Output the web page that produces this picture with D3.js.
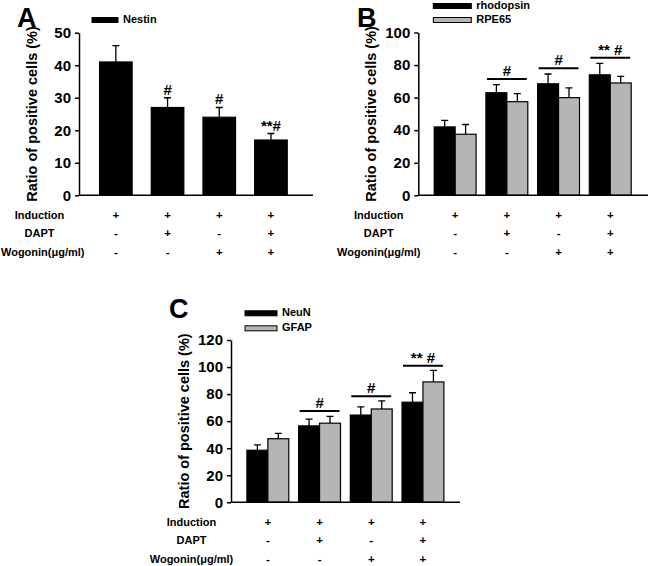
<!DOCTYPE html>
<html>
<head>
<meta charset="utf-8">
<script src="https://cdn.jsdelivr.net/npm/d3@7"></script>
<style>
  body { margin:0; background:#fff; }
  svg { font-family: "Liberation Sans", Arial, sans-serif; font-weight: bold; }
</style>
</head>
<body>
<div id="chart"></div>
<script>
// conditions table
var groups = ["g1", "g2", "g3", "g4"];
var rowLabels = ["Induction", "DAPT", "Wogonin(μg/ml)"];
var inductionSigns = ["+", "+", "+", "+"];
var daptSigns = ["-", "+", "-", "+"];
var wogoninSigns = ["-", "-", "+", "+"];

// panel A
var nestinMean = [41, 27, 24, 17];
var nestinErr = [5, 3, 3, 2];
var marksA = ["", "#", "#", "**#"];

// panel B
var rhodopsinMean = [42, 63, 68.5, 74];
var rhodopsinErr = [4, 5, 6, 7];
var rpe65Mean = [37.5, 57.5, 60, 69];
var rpe65Err = [6, 5, 6, 4];
var marksB = ["", "#", "#", "** #"];
var linesB = [null, 71.5, 78, 84.5];

// panel C
var neunMean = [38.5, 56.5, 64.5, 74];
var neunErr = [4, 5, 6, 7];
var gfapMean = [47, 58.5, 69, 89];
var gfapErr = [4, 5, 6, 8.5];
var marksC = ["", "#", "#", "** #"];
var linesC = [null, 67.5, 78.5, 101];

var svg = d3.select("#chart").append("svg")
    .attr("width", 650).attr("height", 566);

function drawPanel(p) {
  var g = svg.append("g");

  var y = d3.scaleLinear().domain([0, p.yMax]).range([p.yBot, p.yTop]);
  var x = d3.scaleBand().domain(groups)
      .range([p.x0 + 11, p.x0 + 11 + 51.7 * groups.length])
      .paddingInner(p.pad).paddingOuter(p.pad / 2);
  var names = p.series.map(function(s) { return s.name; });
  var xs = d3.scaleBand().domain(names).range([0, x.bandwidth()]);

  // bars + error bars
  p.series.forEach(function(s) {
    var sg = g.append("g");
    sg.selectAll("rect")
      .data(groups)
      .enter().append("rect")
      .attr("x", function(d) { return x(d) + xs(s.name); })
      .attr("y", function(d, i) { return y(s.mean[i]); })
      .attr("width", xs.bandwidth())
      .attr("height", function(d, i) { return p.yBot - y(s.mean[i]); })
      .attr("fill", s.color)
      .attr("stroke", "#000").attr("stroke-width", 1.2);

    var cx = function(d) { return x(d) + xs(s.name) + xs.bandwidth() / 2; };
    sg.selectAll(".err")
      .data(groups)
      .enter().append("path")
      .attr("class", "err")
      .attr("d", function(d, i) {
        var top = y(s.mean[i] + s.err[i]), bot = y(s.mean[i]), c = cx(d);
        return "M" + c + "," + bot + "V" + top + "M" + (c - 3.5) + "," + top + "H" + (c + 3.5);
      })
      .attr("stroke", "#000").attr("stroke-width", 1.3).attr("fill", "none");
  });

  // y axis
  var yAxis = d3.axisLeft(y).tickValues(d3.range(0, p.yMax + 1, p.step))
      .tickSize(4).tickSizeOuter(0).tickPadding(4);
  var ax = g.append("g").attr("transform", "translate(" + p.x0 + ",0)").call(yAxis);
  ax.selectAll("text").attr("font-size", 15).attr("font-family", "Liberation Sans, Arial").attr("font-weight", "bold").attr("fill", "#000");
  ax.selectAll("line, path").attr("stroke", "#000").attr("stroke-width", 1.5);

  // x baseline
  g.append("line")
    .attr("x1", p.x0).attr("x2", p.x1)
    .attr("y1", p.yBot).attr("y2", p.yBot)
    .attr("stroke", "#000").attr("stroke-width", 1.5);

  // axis title
  g.append("text")
    .attr("transform", "translate(" + (p.x0 - 46) + "," + ((p.yTop + p.yBot) / 2) + ") rotate(-90)")
    .attr("text-anchor", "middle").attr("dominant-baseline", "middle")
    .attr("font-size", 14.5)
    .text("Ratio of positive cells (%)");

  // significance marks
  g.selectAll(".mark")
    .data(groups)
    .enter().append("text")
    .attr("class", "mark")
    .attr("x", function(d) { return x(d) + x.bandwidth() / 2; })
    .attr("y", function(d, i) {
      if (p.lines) return p.lines[i] == null ? 0 : y(p.lines[i]) - 3;
      var top = d3.max(p.series, function(s) { return s.mean[i] + s.err[i]; });
      return y(top) - 3;
    })
    .attr("text-anchor", "middle")
    .attr("font-size", 15)
    .text(function(d, i) { return p.marks[i]; });

  if (p.lines) {
    g.selectAll(".sig")
      .data(groups.filter(function(d, i) { return p.lines[i] != null; }))
      .enter().append("line")
      .attr("x1", function(d) { return x(d) + 1; })
      .attr("x2", function(d) { return x(d) + x.bandwidth() - 1; })
      .attr("y1", function(d) { return y(p.lines[groups.indexOf(d)]); })
      .attr("y2", function(d) { return y(p.lines[groups.indexOf(d)]); })
      .attr("stroke", "#000").attr("stroke-width", 2);
  }

  // conditions table
  var signs = [inductionSigns, daptSigns, wogoninSigns];
  var rowY = [20.5, 39, 58];
  rowLabels.forEach(function(lab, r) {
    var t = g.append("text")
      .attr("x", p.x0 - 39.5).attr("y", p.yBot + rowY[r])
      .attr("text-anchor", "middle").attr("dominant-baseline", "middle")
      .attr("font-size", 11)
      .text(lab);
    // keep the long label inside the page
    var w = t.node().getComputedTextLength();
    if (p.x0 - 39.5 - w / 2 < 1) t.attr("x", 1 + w / 2);
    g.selectAll(".sign" + r)
      .data(groups)
      .enter().append("text")
      .attr("x", function(d) { return x(d) + x.bandwidth() / 2; })
      .attr("y", p.yBot + rowY[r])
      .attr("text-anchor", "middle").attr("dominant-baseline", "middle")
      .attr("font-size", 11.5)
      .text(function(d, i) { return signs[r][i]; });
  });

  // legend
  p.series.forEach(function(s, i) {
    var ly = p.legendY[i];
    g.append("rect")
      .attr("x", p.x0 + p.legendX).attr("y", ly - 2.5)
      .attr("width", p.legendW).attr("height", 5)
      .attr("fill", s.color).attr("stroke", "#000").attr("stroke-width", 1);
    g.append("text")
      .attr("x", p.x0 + p.legendX + p.legendW + 5).attr("y", ly)
      .attr("dominant-baseline", "middle")
      .attr("font-size", 11)
      .text(s.name);
  });

  // panel letter
  g.append("text")
    .attr("x", p.letterX).attr("y", p.letterY)
    .attr("font-size", 27)
    .text(p.letter);
}

drawPanel({
  letter: "A", letterX: 17, letterY: 27,
  x0: 79, x1: 313, yTop: 32.7, yBot: 195.3, yMax: 50, step: 10, pad: 0.37,
  series: [{ name: "Nestin", mean: nestinMean, err: nestinErr, color: "#000" }],
  marks: marksA, lines: null,
  legendX: 13, legendW: 26, legendY: [20]
});

drawPanel({
  letter: "B", letterX: 357, letterY: 27,
  x0: 418.3, x1: 648, yTop: 32.5, yBot: 195.3, yMax: 100, step: 20, pad: 0.19,
  series: [
    { name: "rhodopsin", mean: rhodopsinMean, err: rhodopsinErr, color: "#000" },
    { name: "RPE65", mean: rpe65Mean, err: rpe65Err, color: "#b5b5b5" }
  ],
  marks: marksB, lines: linesB,
  legendX: 15, legendW: 38, legendY: [6, 20]
});

drawPanel({
  letter: "C", letterX: 169, letterY: 318,
  x0: 231, x1: 460, yTop: 340, yBot: 502.3, yMax: 120, step: 20, pad: 0.19,
  series: [
    { name: "NeuN", mean: neunMean, err: neunErr, color: "#000" },
    { name: "GFAP", mean: gfapMean, err: gfapErr, color: "#b5b5b5" }
  ],
  marks: marksC, lines: linesC,
  legendX: 14, legendW: 32, legendY: [313.3, 328.3]
});
</script>
</body>
</html>
